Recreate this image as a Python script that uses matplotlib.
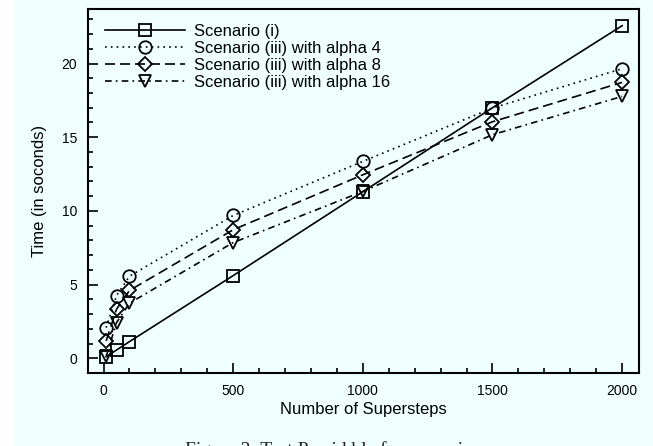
import matplotlib
matplotlib.use("Agg")
import matplotlib.pyplot as plt
from matplotlib.patches import Rectangle
from matplotlib.ticker import MultipleLocator

# Supersteps on the x axis
steps = [10, 50, 100, 500, 1000, 1500, 2000]

# Time in seconds for each scenario
scenario_i = [0.1, 0.56, 1.13, 5.61, 11.3, 17.0, 22.57]
alpha_4 = [2.08, 4.25, 5.57, 9.69, 13.36, 16.98, 19.65]
alpha_8 = [1.18, 3.33, 4.6, 8.72, 12.45, 16.05, 18.72]
alpha_16 = [0.12, 2.42, 3.74, 7.85, 11.32, 15.17, 17.77]

labels = ['Scenario (i)', 'Scenario (iii) with alpha 4',
          'Scenario (iii) with alpha 8', 'Scenario (iii) with alpha 16']

plt.rcParams['font.family'] = ['Liberation Sans', 'DejaVu Sans']

bg = '#F0FFFF'
fig = plt.figure(figsize=(6.53, 4.46), dpi=100, facecolor=bg)
# white strip at the left edge of the page
fig.patches.append(Rectangle((0, 0), 14 / 653, 1, transform=fig.transFigure,
                             facecolor='white', edgecolor='none', zorder=0))

ax = fig.add_axes([88 / 653, 73 / 446, 551 / 653, 364 / 446])
ax.set_facecolor(bg)

common = dict(color='black', lw=1.2, markersize=9, markerfacecolor='none',
              markeredgewidth=1.3, markeredgecolor='black')
ax.plot(steps, scenario_i, linestyle='-', marker='s', label=labels[0], **common)
ax.plot(steps, alpha_4, linestyle=(0, (1, 2.5)), marker='o', label=labels[1], **common)
ax.plot(steps, alpha_8, linestyle=(0, (6, 3)), marker='D', label=labels[2],
        **{**common, 'markersize': 7.5})
ax.plot(steps, alpha_16, linestyle=(0, (4, 2.5, 1, 2.5)), marker='v', label=labels[3], **common)

ax.set_xlim(-60, 2065)
ax.set_ylim(-1, 23.7)
ax.xaxis.set_major_locator(MultipleLocator(500))
ax.xaxis.set_minor_locator(MultipleLocator(100))
ax.yaxis.set_major_locator(MultipleLocator(5))
ax.yaxis.set_minor_locator(MultipleLocator(1))
ax.tick_params(which='both', direction='in', top=False, right=False,
               labelsize=10, width=1.2, pad=8)
ax.tick_params(which='major', length=7)
ax.tick_params(which='minor', length=3.5)
for s in ax.spines.values():
    s.set_linewidth(1.5)

ax.set_xlabel('Number of Supersteps', fontsize=12, labelpad=3)
ax.set_ylabel('Time (in soconds)', fontsize=12, labelpad=10)

ax.legend(loc='upper left', frameon=False, fontsize=12, handlelength=4.8,
          handletextpad=0.55, labelspacing=0.12, borderaxespad=0.3,
          bbox_to_anchor=(0.01, 0.99))

fig.text(0.51, 5 / 446, 'Figure 3: Test Parsid ble for scenarios', ha='center',
         va='top', fontsize=14, family='Liberation Serif', color='#222222')

fig.savefig('out.png', dpi=100, facecolor=bg)
